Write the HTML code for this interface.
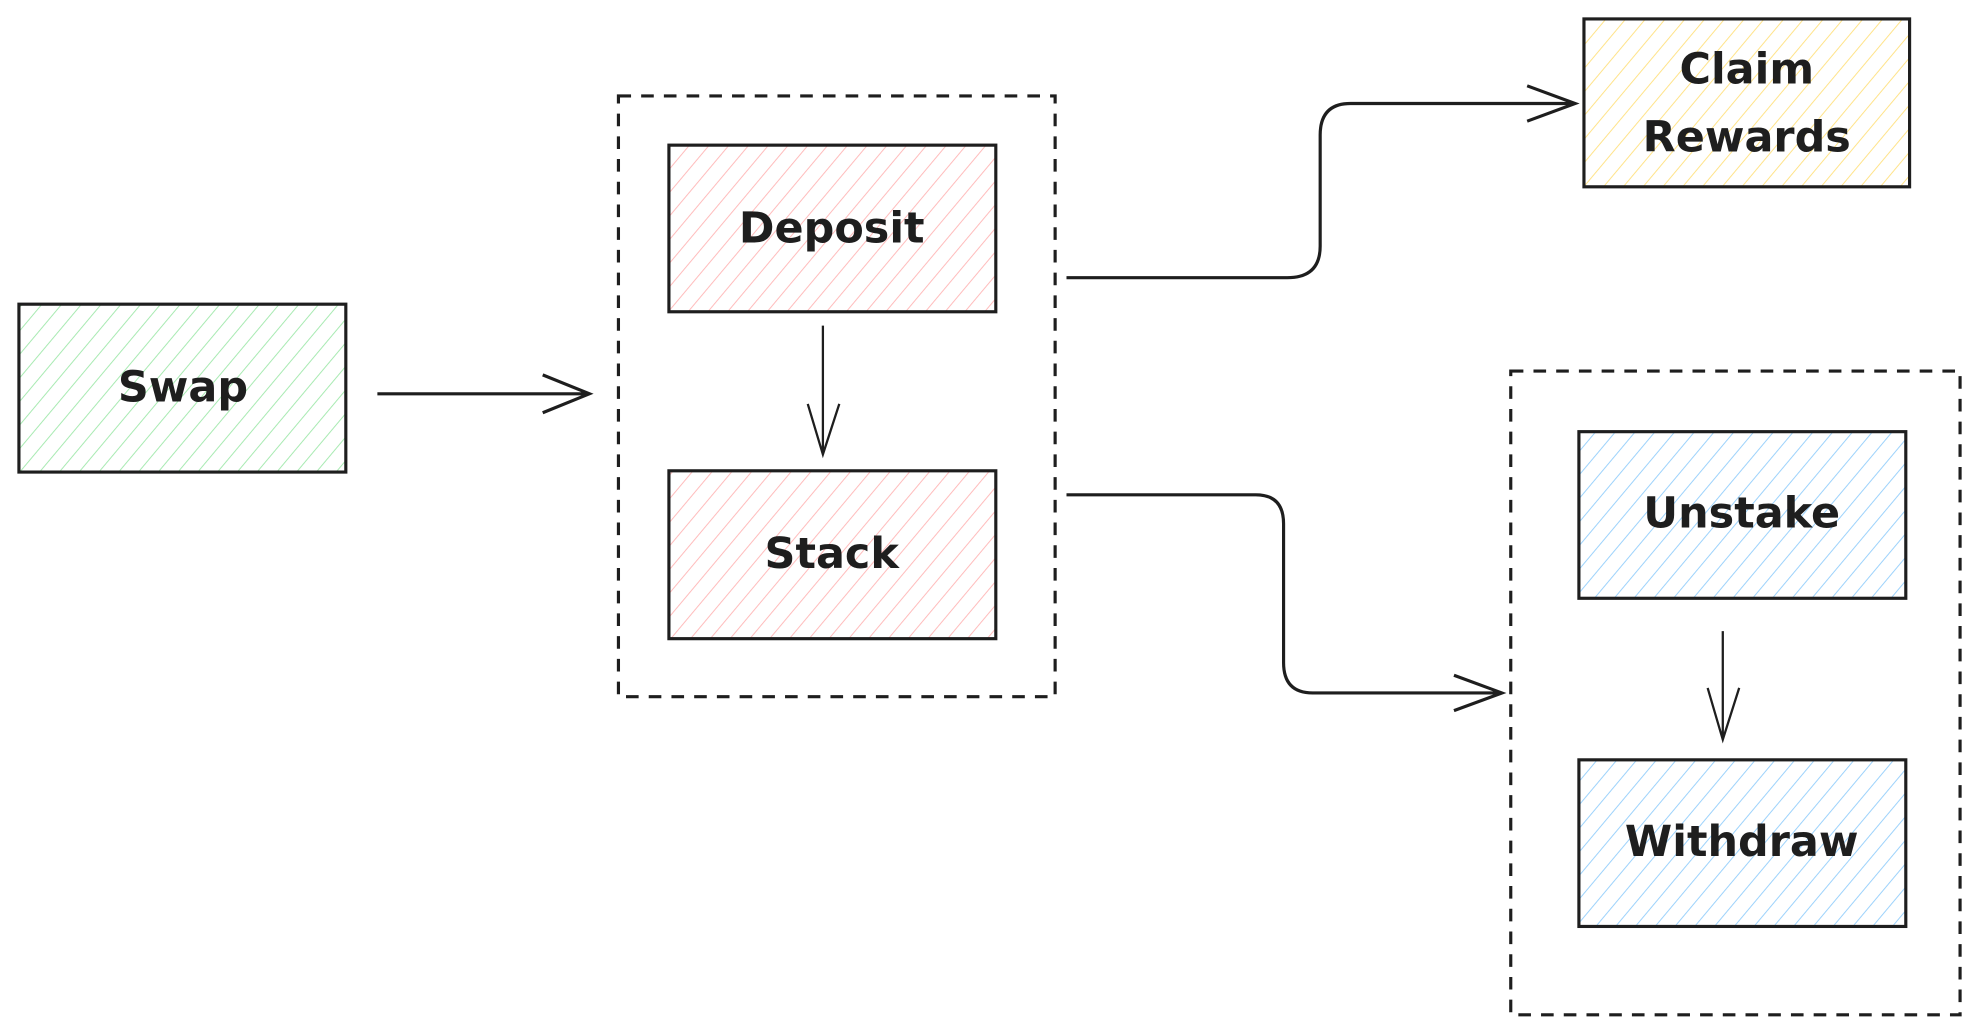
<!DOCTYPE html>
<html><head><style>html,body{margin:0;padding:0;background:#fff;}svg{display:block}</style></head>
<body>
<svg width="1979" height="1035" viewBox="0 0 1568 820" preserveAspectRatio="none" xmlns="http://www.w3.org/2000/svg">
<defs>
<pattern id="g" width="12" height="12" patternUnits="userSpaceOnUse" patternTransform="rotate(40)"><line x1="0" y1="0" x2="0" y2="12" stroke="#a8eab2" stroke-width="1.6"/></pattern>
<pattern id="r" width="12" height="12" patternUnits="userSpaceOnUse" patternTransform="rotate(40)"><line x1="0" y1="0" x2="0" y2="12" stroke="#ffbcbc" stroke-width="1.6"/></pattern>
<pattern id="y" width="12" height="12" patternUnits="userSpaceOnUse" patternTransform="rotate(40)"><line x1="0" y1="0" x2="0" y2="12" stroke="#ffe38a" stroke-width="1.6"/></pattern>
<pattern id="b" width="12" height="12" patternUnits="userSpaceOnUse" patternTransform="rotate(40)"><line x1="0" y1="0" x2="0" y2="12" stroke="#9dd2fb" stroke-width="1.6"/></pattern>
</defs>
<g stroke="#1e1e1e" stroke-width="2.5" fill="none">
<rect x="490" y="76" width="346" height="476" stroke-dasharray="10 8"/>
<rect x="1197" y="294" width="356" height="510" stroke-dasharray="10 8"/>
<rect x="15" y="241" width="259" height="133" fill="url(#g)"/>
<rect x="530" y="115" width="259" height="132" fill="url(#r)"/>
<rect x="530" y="373" width="259" height="133" fill="url(#r)"/>
<rect x="1255" y="15" width="258" height="133" fill="url(#y)"/>
<rect x="1251" y="342" width="259" height="132" fill="url(#b)"/>
<rect x="1251" y="602" width="259" height="132" fill="url(#b)"/>
<path d="M299 312 H467 M430 297 L467 312 L430 327"/>
<path d="M652 258 V360 M640 320 L652 360 L665 320" stroke-width="1.8"/>
<path d="M1365 500 V586 M1353 545 L1365 586 L1378 545" stroke-width="1.8"/>
<path d="M845 220 H1020 Q1046 220 1046 195 V107 Q1046 82 1070 82 H1248 M1210 68 L1248 82 L1210 96"/>
<path d="M845 392 H995 Q1017 392 1017 415 V525 Q1017 549 1040 549 H1190 M1152 535 L1190 549 L1152 563"/>
</g>
<g font-family="'Comic Sans MS','DejaVu Sans',sans-serif" font-size="34" fill="#1e1e1e" text-anchor="middle" font-weight="bold">
<text x="145" y="318">Swap</text>
<text x="659" y="192">Deposit</text>
<text x="659" y="450">Stack</text>
<text x="1384" y="66">Claim</text>
<text x="1384" y="120">Rewards</text>
<text x="1380" y="418">Unstake</text>
<text x="1380" y="678">Withdraw</text>
</g>
</svg>
</body></html>
